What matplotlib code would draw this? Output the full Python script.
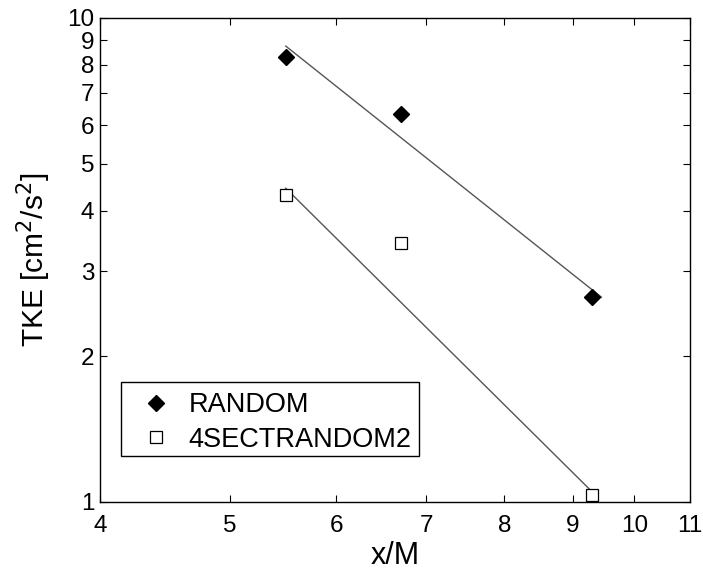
import numpy as np
import matplotlib
matplotlib.use("Agg")
import matplotlib.pyplot as plt
from matplotlib.patches import Rectangle

plt.rcParams['font.family'] = ['Liberation Sans', 'DejaVu Sans']

# measured TKE decay behind the two grids
x_m = [5.5, 6.7, 9.3]
tke_random = [8.3, 6.33, 2.65]
tke_4sect = [4.31, 3.43, 1.034]

# power-law fit lines (end points)
fit_x_random = [5.5, 9.45]
fit_y_random = [8.75, 2.65]
fit_x_4sect = [5.5, 9.3]
fit_y_4sect = [4.45, 1.05]

xticks = [4, 5, 6, 7, 8, 9, 10, 11]
yticks = [1, 2, 3, 4, 5, 6, 7, 8, 9, 10]

fig = plt.figure(figsize=(7.03, 5.72), dpi=100)
ax = fig.add_axes([100 / 703, 70 / 572, 590 / 703, 484 / 572])

ax.plot(fit_x_random, fit_y_random, color='#555555', lw=1.0, zorder=2)
ax.plot(fit_x_4sect, fit_y_4sect, color='#555555', lw=1.0, zorder=2)

ax.plot(x_m, tke_random, linestyle='none', marker='D', ms=8.3, mfc='black',
        mec='black', label='RANDOM', zorder=3)
ax.plot(x_m, tke_4sect, linestyle='none', marker='s', ms=9, mfc='white',
        mec='black', mew=0.9, label='4SECTRANDOM2', zorder=3)

ax.set_xscale('log')
ax.set_yscale('log')
ax.set_xlim(4, 11)
ax.set_ylim(1, 10)
ax.set_xticks(xticks)
ax.set_xticklabels([str(t) for t in xticks])
ax.set_yticks(yticks)
ax.set_yticklabels([str(t) for t in yticks])
ax.minorticks_off()
ax.tick_params(direction='in', top=True, right=True, length=5, width=0.8,
               labelsize=17.5)
ax.tick_params(axis='x', pad=9)
ax.tick_params(axis='y', pad=4)
for s in ax.spines.values():
    s.set_linewidth(1.0)

ax.set_xlabel('x/M', fontsize=22, labelpad=3)
ax.set_ylabel('TKE [cm$^2$/s$^2$]', fontsize=21.5, labelpad=10)

# legend frame drawn separately so its box can be placed exactly
frame = Rectangle((0.0356, 0.0950), 0.505, 0.1535, transform=ax.transAxes,
                  facecolor='white', edgecolor='black', lw=1.0, zorder=4)
ax.add_patch(frame)
leg = ax.legend(loc='upper left', bbox_to_anchor=(0.0356, 0.255),
                borderaxespad=0, fontsize=19.5, frameon=False,
                handletextpad=0.4, borderpad=0.5, labelspacing=0.32,
                handlelength=1.6)
leg.set_zorder(5)

fig.savefig('out.png', dpi=100)
